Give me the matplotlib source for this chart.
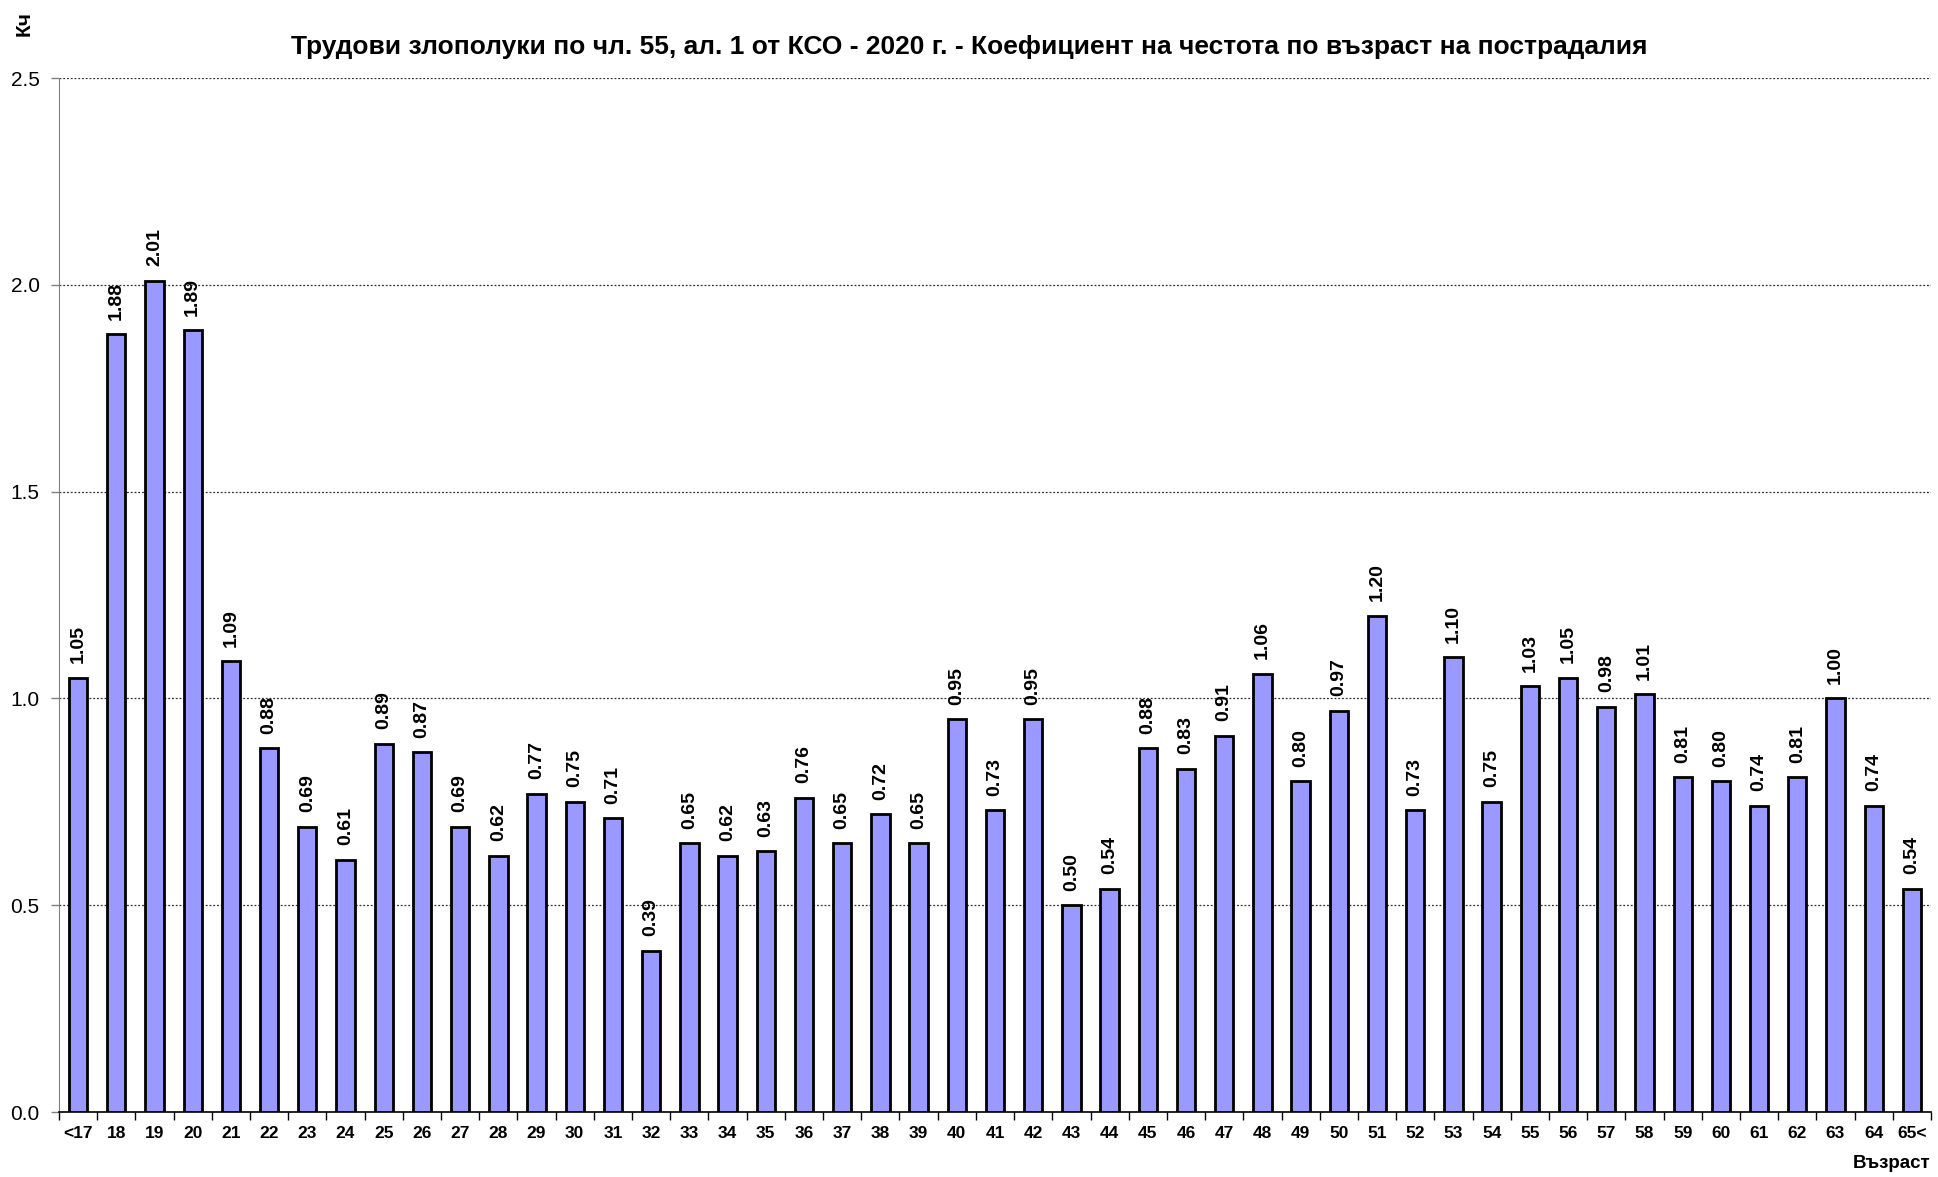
import matplotlib
matplotlib.use("Agg")
import matplotlib.pyplot as plt
import numpy as np

plt.rcParams['font.family'] = ['Liberation Sans', 'DejaVu Sans']

# възрастови групи и коефициент на честота
ages = ['<17'] + [str(a) for a in range(18, 65)] + ['65<']
kch = [1.05, 1.88, 2.01, 1.89, 1.09, 0.88, 0.69, 0.61, 0.89, 0.87,
       0.69, 0.62, 0.77, 0.75, 0.71, 0.39, 0.65, 0.62, 0.63, 0.76,
       0.65, 0.72, 0.65, 0.95, 0.73, 0.95, 0.50, 0.54, 0.88, 0.83,
       0.91, 1.06, 0.80, 0.97, 1.20, 0.73, 1.10, 0.75, 1.03, 1.05,
       0.98, 1.01, 0.81, 0.80, 0.74, 0.81, 1.00, 0.74, 0.54]
yticks = [0.0, 0.5, 1.0, 1.5, 2.0, 2.5]

title = 'Трудови злополуки по чл. 55, ал. 1 от КСО - 2020 г. - Коефициент на честота по възраст на пострадалия'

fig = plt.figure(figsize=(19.38, 11.77), dpi=100)
ax = fig.add_axes([59 / 1938, 1 - 1112 / 1177, (1931 - 59) / 1938, (1112 - 78) / 1177])

x = np.arange(len(ages))
ax.bar(x, kch, width=0.48, color='#9999FF', edgecolor='black', linewidth=2, zorder=3)

for xi, v in zip(x, kch):
    ax.text(xi, v + 0.035, f'{v:.2f}', rotation=90, ha='center', va='bottom',
            fontsize=14, fontweight='bold', zorder=4)

ax.set_xlim(-0.5, len(ages) - 0.5)
ax.set_ylim(0, 2.5)
ax.set_yticks(yticks)
ax.set_yticklabels([f'{t:.1f}' for t in yticks], fontsize=15)
ax.yaxis.grid(True, linestyle=(0, (1.5, 1.5)), color='#303030', linewidth=0.9, zorder=0)

ax.set_xticks(x)
ax.set_xticklabels(ages, fontsize=12.5, fontweight='bold')
ax.set_xticks(np.arange(-0.5, len(ages), 1), minor=True)
ax.tick_params(axis='x', which='major', length=0, pad=10)
ax.tick_params(axis='x', which='minor', length=6, width=1, color='black', direction='out')
ax.tick_params(axis='y', length=6, width=1, color='#808080', direction='out', pad=8)

for s in ['top', 'right']:
    ax.spines[s].set_visible(False)
ax.spines['left'].set_color('#808080')
ax.spines['bottom'].set_color('black')
ax.spines['bottom'].set_linewidth(1.2)

fig.text(0.5, 1 - 47 / 1177, title, ha='center', va='center', fontsize=19, fontweight='bold')
fig.text(24 / 1938, 1 - 24 / 1177, 'Кч', rotation=90, ha='center', va='center',
         fontsize=15, fontweight='bold')
fig.text(1930 / 1938, 1 - 1163 / 1177, 'Възраст', ha='right', va='center',
         fontsize=13.5, fontweight='bold')

fig.savefig('out.png', dpi=100)
